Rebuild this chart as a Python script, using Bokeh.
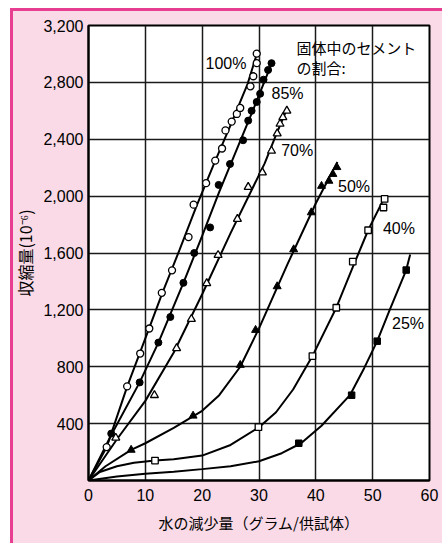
from bokeh.plotting import figure
from bokeh.models import FixedTicker, NumeralTickFormatter, Range1d
from bokeh.core.properties import value
from bokeh.embed import file_html
from bokeh.resources import INLINE

# ---------------- data ----------------
x_ticks = [0, 10, 20, 30, 40, 50, 60]
y_ticks = [400, 800, 1200, 1600, 2000, 2400, 2800, 3200]

# 100 % cement (open circles)
x100_pts = [3.2, 6.8, 9.1, 10.7, 12.9, 14.7, 17.6, 18.5, 20.7, 22.3, 23.5, 24.1, 25.2, 26.1, 26.7, 28.5, 29.0, 29.6, 29.6]
y100_pts = [235, 662, 893, 1069, 1320, 1478, 1712, 1940, 2091, 2250, 2335, 2462, 2524, 2578, 2620, 2772, 2843, 2935, 3002]
x100_line = [0, 3.2, 6.8, 10, 13, 16, 19, 22, 25, 28, 29.7]
y100_line = [0, 235, 660, 1000, 1320, 1620, 1930, 2220, 2500, 2790, 3010]

# 85 % (filled circles)
x85_pts = [4.0, 9.0, 12.3, 14.4, 16.7, 18.6, 21.4, 22.9, 24.9, 27.2, 28.1, 28.7, 29.6, 30.2, 30.8, 31.6, 32.2]
y85_pts = [330, 690, 970, 1150, 1390, 1600, 1780, 2079, 2226, 2393, 2531, 2600, 2662, 2720, 2819, 2887, 2935]
x85_line = [0, 4, 9, 12.3, 16.7, 20, 23, 26, 29, 32.2]
y85_line = [0, 320, 690, 970, 1390, 1720, 2030, 2320, 2610, 2930]

# 70 % (open triangles)
x70_pts = [4.8, 11.6, 15.5, 18.1, 20.8, 22.8, 26.2, 28.1, 30.6, 32.2, 33.2, 33.7, 34.2, 34.9]
y70_pts = [300, 600, 930, 1135, 1387, 1585, 1839, 2064, 2166, 2318, 2440, 2508, 2554, 2600]
x70_line = [0, 5, 10, 15, 20, 25, 28.3, 31, 33, 35]
y70_line = [0, 290, 560, 900, 1310, 1740, 2010, 2230, 2430, 2620]

# 50 % (filled triangles)
x50_pts = [7.5, 18.4, 26.7, 29.4, 33.2, 36.1, 39.2, 41.0, 42.3, 43.0, 43.7]
y50_pts = [215, 455, 812, 1058, 1365, 1625, 1885, 2071, 2107, 2155, 2203]
x50_line = [0, 3, 7.5, 10, 15, 20, 23, 26.7, 30, 35, 40, 43.8]
y50_line = [0, 100, 215, 262, 370, 490, 600, 800, 1070, 1520, 1950, 2240]

# 40 % (open squares)
x40_pts = [11.7, 29.9, 39.4, 43.6, 46.5, 49.2, 51.9, 52.1]
y40_pts = [140, 375, 875, 1215, 1540, 1760, 1920, 1980]
x40_line = [0, 2, 5, 8, 11.7, 15, 20, 25, 30, 33, 36, 39.4, 43.6, 46.5, 49.2, 52.2]
y40_line = [0, 60, 100, 125, 140, 150, 175, 250, 375, 480, 640, 875, 1215, 1500, 1760, 2000]

# 25 % (filled squares)
x25_pts = [37.0, 46.3, 50.8, 55.9]
y25_pts = [262, 600, 980, 1480]
x25_line = [0, 5, 10, 15, 20, 25, 30, 34, 37.4, 41, 46, 48.5, 50.8, 53, 55.9, 56.6]
y25_line = [0, 28, 48, 62, 80, 100, 135, 192, 262, 385, 600, 790, 980, 1200, 1480, 1590]

series_labels = ["100%", "85%", "70%", "50%", "40%", "25%"]
label_x = [20.6, 32.2, 33.9, 43.9, 51.8, 53.4]
label_y = [2936, 2720, 2323, 2071, 1769, 1105]

legend_title = ["固体中のセメント", "の割合:"]
legend_x = [36.6, 36.6]
legend_y = [3048, 2903]

x_label = "水の減少量（グラム/供試体）"
y_label = "収縮量(10⁻⁶)"

# ---------------- figure ----------------
p = figure(width=442, height=543, output_backend="svg", toolbar_location=None,
           x_range=Range1d(0, 60), y_range=Range1d(0, 3200),
           min_border_left=88, min_border_right=13, min_border_top=25, min_border_bottom=63)
p.background_fill_color = "white"
p.border_fill_color = None
p.styles = {
    "background-color": "#F9DAE6",
    "background-image": ("linear-gradient(#ffffff,#ffffff), linear-gradient(#ffffff,#ffffff), "
                         "linear-gradient(#E83E91,#E83E91), linear-gradient(#E83E91,#E83E91)"),
    "background-size": "10px 100%, 100% 8px, 3px 100%, 100% 3px",
    "background-position": "0 0, 0 0, 10px 8px, 10px 8px",
    "background-repeat": "no-repeat",
}
p.outline_line_color = "black"
p.outline_line_width = 2
p.outline_line_alpha = 1

p.xaxis.ticker = FixedTicker(ticks=x_ticks)
p.yaxis.ticker = FixedTicker(ticks=y_ticks)
p.yaxis.formatter = NumeralTickFormatter(format="0,0")
for ax in (p.xaxis, p.yaxis):
    ax.major_tick_out = 0
    ax.major_tick_in = 0
    ax.minor_tick_out = 0
    ax.minor_tick_in = 0
    ax.axis_line_color = "black"
    ax.axis_line_width = 2
    ax.major_label_text_font = "Liberation Sans"
    ax.major_label_text_font_size = "16px"
    ax.major_label_text_color = "black"
    ax.axis_label_text_font = "Noto Sans CJK JP"
    ax.axis_label_text_font_style = "normal"
    ax.axis_label_text_color = "black"
p.xaxis.axis_label_text_font_size = "15px"
p.yaxis.axis_label_text_font_size = "16px"
p.xaxis.major_label_standoff = 8
p.yaxis.major_label_standoff = 5
p.xaxis.axis_label = x_label
p.yaxis.axis_label = y_label
p.xaxis.axis_label_standoff = 8
p.yaxis.axis_label_standoff = 3

p.xgrid.ticker = FixedTicker(ticks=x_ticks)
p.ygrid.ticker = FixedTicker(ticks=y_ticks)
p.grid.grid_line_color = "#1a1a1a"
p.grid.grid_line_width = 1.5
p.grid.grid_line_alpha = 1

# lines
for xs, ys in [(x100_line, y100_line), (x85_line, y85_line), (x70_line, y70_line),
               (x50_line, y50_line), (x40_line, y40_line), (x25_line, y25_line)]:
    p.line(xs, ys, line_color="black", line_width=2)

# markers
p.scatter(x100_pts, y100_pts, marker="circle", size=7, fill_color="white", line_color="black", line_width=1.3)
p.scatter(x85_pts, y85_pts, marker="circle", size=7, fill_color="black", line_color="black")
p.scatter(x70_pts, y70_pts, marker="triangle", size=8, fill_color="white", line_color="black", line_width=1.3)
p.scatter(x50_pts, y50_pts, marker="triangle", size=8, fill_color="black", line_color="black")
p.scatter(x40_pts, y40_pts, marker="square", size=6.5, fill_color="white", line_color="black", line_width=1.3)
p.scatter(x25_pts, y25_pts, marker="square", size=6.5, fill_color="black", line_color="black")

# labels
p.text(x=label_x, y=label_y, text=series_labels, text_font=value("Liberation Sans"),
       text_font_size="16px", text_align="left", text_baseline="middle", text_color="black")
p.text(x=legend_x, y=legend_y, text=legend_title, text_font=value("Noto Sans CJK JP"),
       text_font_size="15px", text_align="left", text_baseline="middle", text_color="black")

open("out.html", "w").write(file_html(p, INLINE))
